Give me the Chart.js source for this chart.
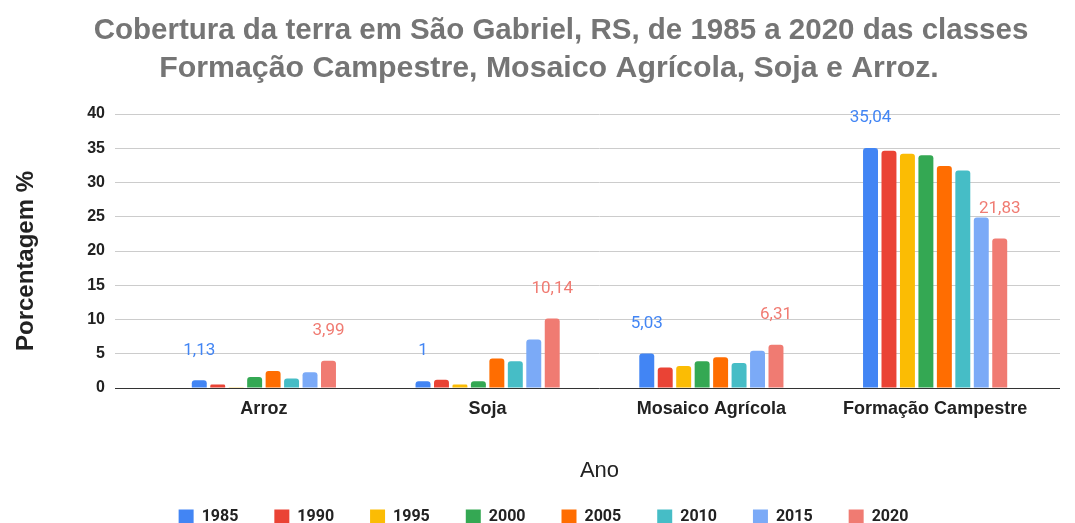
<!DOCTYPE html>
<html>
<head>
<meta charset="utf-8">
<script src="https://cdn.jsdelivr.net/npm/chart.js@4/dist/chart.umd.min.js"></script>
<style>
  html, body { margin: 0; padding: 0; background: #fff; }
  #wrap { width: 1075px; height: 523px; }
</style>
</head>
<body>
<div id="wrap"><canvas id="chart" width="1075" height="523"></canvas></div>
<script>
const titleLines = ['Cobertura da terra em São Gabriel, RS, de 1985 a 2020 das classes',
                    'Formação Campestre, Mosaico Agrícola, Soja e Arroz.'];
const categories = ['Arroz', 'Soja', 'Mosaico Agrícola', 'Formação Campestre'];
const years = ['1985', '1990', '1995', '2000', '2005', '2010', '2015', '2020'];
const v1985 = [1.13, 1, 5.03, 35.04];
const v1990 = [0.5, 1.2, 3.0, 34.65];
const v1995 = [0.1, 0.5, 3.2, 34.2];
const v2000 = [1.6, 1.0, 3.9, 33.97];
const v2005 = [2.5, 4.3, 4.5, 32.4];
const v2010 = [1.4, 3.9, 3.65, 31.76];
const v2015 = [2.3, 7.07, 5.45, 24.9];
const v2020 = [3.99, 10.14, 6.31, 21.83];
const yTicks = [0, 5, 10, 15, 20, 25, 30, 35, 40];

const seriesValues = [v1985, v1990, v1995, v2000, v2005, v2010, v2015, v2020];
const colors = ['#4285F4', '#EA4335', '#FBBC04', '#34A853', '#FF6D01', '#46BDC6', '#7BAAF7', '#F07B72'];
// only these series get value labels in the original
const labelled = ['1985', '2020'];

const datasets = years.map(function(y, i) {
  return {
    label: y,
    data: seriesValues[i],
    backgroundColor: colors[i],
    borderRadius: { topLeft: 3, topRight: 3 },
    borderSkipped: 'bottom',
    categoryPercentage: 0.66,
    barPercentage: 0.81
  };
});

// two-line title
const bigTitle = {
  id: 'bigTitle',
  afterDraw(chart) {
    const ctx = chart.ctx;
    ctx.save();
    ctx.font = 'bold 29.5px "Liberation Sans"';
    ctx.fillStyle = '#757575';
    ctx.textAlign = 'center';
    ctx.textBaseline = 'middle';
    ctx.fillText(titleLines[0], 561, 31);
    ctx.font = 'bold 30.3px "Liberation Sans"';
    ctx.fillText(titleLines[1], 549, 69);
    ctx.restore();
  }
};

// value labels, drawn ~30px above the top of the bar
const valueLabels = {
  id: 'valueLabels',
  afterDatasetsDraw(chart) {
    const ctx = chart.ctx;
    ctx.save();
    ctx.font = '17px Roboto';
    ctx.textAlign = 'center';
    ctx.textBaseline = 'middle';
    chart.data.datasets.forEach(function(ds, i) {
      if (labelled.indexOf(ds.label) < 0) return;
      const meta = chart.getDatasetMeta(i);
      ctx.fillStyle = ds.backgroundColor;
      meta.data.forEach(function(bar, j) {
        const txt = String(ds.data[j]).replace('.', ',');
        ctx.fillText(txt, bar.x, bar.y - 30);
      });
    });
    ctx.restore();
  }
};

// gridlines run a bit past the plot on the right
const gridExtend = {
  id: 'gridExtend',
  beforeDatasetsDraw(chart) {
    const ctx = chart.ctx;
    const y = chart.scales.y;
    const area = chart.chartArea;
    ctx.save();
    ctx.lineWidth = 1;
    yTicks.forEach(function(t) {
      // same pixel snapping chart.js uses for its own grid
      const py = Math.round(y.getPixelForValue(t) - 0.5) + 0.5;
      ctx.strokeStyle = t === 0 ? '#333333' : '#cccccc';
      ctx.beginPath();
      ctx.moveTo(area.right, py);
      ctx.lineTo(area.right + 13, py);
      ctx.stroke();
    });
    ctx.restore();
  }
};

// legend row sits a bit right of centre in the original
const legendShift = {
  id: 'legendShift',
  afterLayout(chart) {
    if (!chart.legend) return;
    chart.legend.left += 15;
    chart.legend.right += 15;
  }
};

new Chart(document.getElementById('chart'), {
  type: 'bar',
  data: { labels: categories, datasets: datasets },
  plugins: [valueLabels, gridExtend, bigTitle, legendShift],
  options: {
    responsive: false,
    animation: false,
    layout: { padding: { left: 10, right: 28, top: 114, bottom: 0 } },
    plugins: {
      title: { display: false },
      legend: {
        position: 'bottom',
        maxHeight: 50,
        labels: {
          boxWidth: 15,
          boxHeight: 15,
          padding: 36,
          color: '#222222',
          font: { family: 'Roboto', size: 16, weight: 'bold' }
        }
      },
      tooltip: { enabled: false }
    },
    scales: {
      x: {
        grid: { display: false, drawTicks: false },
        border: { display: false },
        ticks: {
          color: '#222222',
          padding: 10,
          font: { family: 'Liberation Sans', size: 18, weight: 'bold' }
        },
        title: {
          display: true,
          text: 'Ano',
          color: '#222222',
          font: { family: 'Liberation Sans', size: 22 },
          padding: { top: 28, bottom: -11 }
        }
      },
      y: {
        min: 0,
        max: 40,
        afterFit: function(scale) { scale.width = 142; },
        afterBuildTicks: function(scale) {
          scale.ticks = yTicks.map(function(v) { return { value: v }; });
        },
        grid: {
          color: function(c) { return c.tick && c.tick.value === 0 ? '#333333' : '#cccccc'; },
          tickLength: 37,
          tickColor: function(c) { return c.tick && c.tick.value === 0 ? '#333333' : '#cccccc'; }
        },
        border: { display: false },
        ticks: {
          color: '#222222',
          padding: 10,
          font: { family: 'Liberation Sans', size: 16, weight: 'bold' }
        },
        title: {
          display: true,
          text: 'Porcentagem %   ',
          color: '#222222',
          font: { family: 'Liberation Sans', size: 24, weight: 'bold' },
          padding: { top: 2, bottom: 8 }
        }
      }
    }
  }
});
</script>
</body>
</html>
